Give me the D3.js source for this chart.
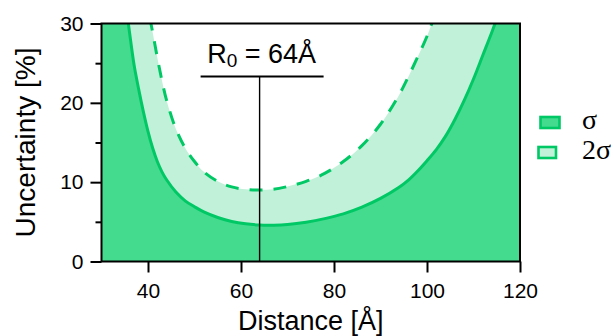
<!DOCTYPE html>
<html>
<head>
<meta charset="utf-8">
<script src="https://cdn.jsdelivr.net/npm/d3@7"></script>
<style>
  html, body { margin: 0; padding: 0; background: #fff; }
  svg { display: block; }
  .sans { font-family: "Liberation Sans", Arial, Helvetica, sans-serif; }
  .serif { font-family: "Liberation Serif", "Times New Roman", serif; }
</style>
</head>
<body>
<svg id="chart" width="614" height="336"></svg>
<script>
// Relative distance uncertainty vs. donor–acceptor distance
const distance = [30, 32, 34, 36, 37, 38, 39, 40, 41, 42, 43, 44, 46, 48, 50, 52, 55, 58, 61, 64,
                  67, 70, 74, 78, 82, 86, 90, 94, 96, 98, 100, 102, 104, 106, 108, 110, 112, 114, 116, 118, 120];
const sigma =     [60, 48, 38, 29.0, 24.8, 21.7, 18.9, 16.4, 14.3, 12.6, 11.3, 10.3, 8.75, 7.65, 6.9, 6.25, 5.55, 5.05, 4.75, 4.6,
                  4.58, 4.66, 4.95, 5.4, 6.0, 6.85, 7.95, 9.35, 10.25, 11.4, 12.7, 14.1, 15.8, 17.9, 20.3, 23.0, 26.0, 29.0, 32.2, 35.5, 39];
const twoSigma =  [100, 80, 64, 50, 44, 39, 35, 31.9, 28.9, 25.7, 22.8, 20.3, 16.7, 14.3, 12.6, 11.3, 10.1, 9.4, 9.1, 9.0,
                  9.1, 9.45, 10.1, 11.1, 12.6, 14.6, 17.3, 21.0, 23.3, 25.8, 28.4, 31.6, 35, 39, 43, 48, 53, 58, 64, 70, 77];
const R0 = 64;
const xTicks = [40, 60, 80, 100, 120];
const yTicks = [0, 10, 20, 30];
const yMinorTicks = [5, 15, 25];
const legendLabels = ["σ", "2σ"];

const colors = {
  line: "#00c865",
  dark: "#44db8f",
  light: "#c2f1d9"
};

const svg = d3.select("#chart");
const margin = { left: 101.5, right: 94, top: 23.5, bottom: 74.5 };
const W = 614, H = 336;

const x = d3.scaleLinear().domain([30, 120]).range([margin.left, W - margin.right]);
const y = d3.scaleLinear().domain([0, 30]).range([H - margin.bottom, margin.top]);

const pts = (vals) => distance.map((d, i) => ({ x: d, y: vals[i] }));
const sigmaPts = pts(sigma);
const twoSigmaPts = pts(twoSigma);

svg.append("defs").append("clipPath").attr("id", "plotClip")
  .append("rect")
  .attr("x", x(30)).attr("y", y(30))
  .attr("width", x(120) - x(30)).attr("height", y(0) - y(30));

const plot = svg.append("g").attr("clip-path", "url(#plotClip)");

const curve = d3.curveCatmullRom.alpha(0.5);
const area = d3.area().x(d => x(d.x)).y0(y(0)).y1(d => y(d.y)).curve(curve);
const line = d3.line().x(d => x(d.x)).y(d => y(d.y)).curve(curve);

// 2σ band (light), then σ band (dark) on top
plot.append("path").datum(twoSigmaPts).attr("d", area).attr("fill", colors.light);
plot.append("path").datum(sigmaPts).attr("d", area).attr("fill", colors.dark);

plot.append("path").datum(sigmaPts).attr("d", line)
  .attr("fill", "none").attr("stroke", colors.line).attr("stroke-width", 3);
plot.append("path").datum(twoSigmaPts).attr("d", line)
  .attr("fill", "none").attr("stroke", colors.line).attr("stroke-width", 3)
  .attr("stroke-dasharray", "13,11");

// R0 marker
const annotY = y(30) + 53;
svg.append("line")
  .attr("x1", x(R0)).attr("x2", x(R0))
  .attr("y1", annotY).attr("y2", y(0))
  .attr("stroke", "#000").attr("stroke-width", 1.4);
svg.append("line")
  .attr("x1", x(R0) - 59).attr("x2", x(R0) + 64)
  .attr("y1", annotY).attr("y2", annotY)
  .attr("stroke", "#000").attr("stroke-width", 2);
const r0Text = svg.append("text").attr("class", "sans")
  .attr("x", x(R0) + 2).attr("y", annotY - 14)
  .attr("text-anchor", "middle")
  .attr("font-size", 27).attr("fill", "#000");
r0Text.append("tspan").text("R");
r0Text.append("tspan").attr("font-size", 19).attr("dy", 4).text("0");
r0Text.append("tspan").attr("dy", -4).text(" = " + R0 + "Å");

// Axes
const axisFont = (g) => g.selectAll("text")
  .attr("class", "sans").attr("font-size", 21).attr("fill", "#000").attr("font-family", null);

const gx = svg.append("g").attr("transform", `translate(0,${y(0)})`)
  .call(d3.axisBottom(x).tickValues(xTicks).tickSize(11).tickPadding(11).tickSizeOuter(0))
  .call(axisFont);
const gy = svg.append("g").attr("transform", `translate(${x(30)},0)`)
  .call(d3.axisLeft(y).tickValues(yTicks).tickSize(11).tickPadding(7).tickSizeOuter(0))
  .call(axisFont);
const gyMinor = svg.append("g").attr("transform", `translate(${x(30)},0)`)
  .call(d3.axisLeft(y).tickValues(yMinorTicks).tickSize(6).tickFormat("").tickSizeOuter(0));

[gx, gy, gyMinor].forEach(g => {
  g.select(".domain").remove();
  g.selectAll("line").attr("stroke", "#000").attr("stroke-width", 2);
});

// Frame
svg.append("rect")
  .attr("x", x(30)).attr("y", y(30))
  .attr("width", x(120) - x(30)).attr("height", y(0) - y(30))
  .attr("fill", "none").attr("stroke", "#000").attr("stroke-width", 2);

// Axis titles
svg.append("text").attr("class", "sans")
  .attr("x", (x(30) + x(120)) / 2).attr("y", 330)
  .attr("text-anchor", "middle").attr("font-size", 27).attr("fill", "#000")
  .text("Distance [Å]");
svg.append("text").attr("class", "sans")
  .attr("transform", `translate(35,${(y(0) + y(30)) / 2}) rotate(-90)`)
  .attr("text-anchor", "middle").attr("font-size", 28).attr("fill", "#000")
  .text("Uncertainty [%]");

// Legend
const legendFills = [colors.dark, colors.light];
const legend = svg.append("g");
const items = legend.selectAll("g").data(legendLabels).join("g")
  .attr("transform", (d, i) => `translate(${i === 0 ? 540.5 : 538.5},${117 + i * 30})`);
items.append("rect")
  .attr("width", (d, i) => i === 0 ? 19 : 17.5).attr("height", 11)
  .attr("fill", (d, i) => legendFills[i])
  .attr("stroke", colors.line).attr("stroke-width", 2.6);
items.append("text").attr("class", "serif")
  .attr("x", (d, i) => i === 0 ? 41.5 : 43.5).attr("y", 11.5)
  .attr("font-size", 28).attr("fill", "#000")
  .text(d => d);
</script>
</body>
</html>
